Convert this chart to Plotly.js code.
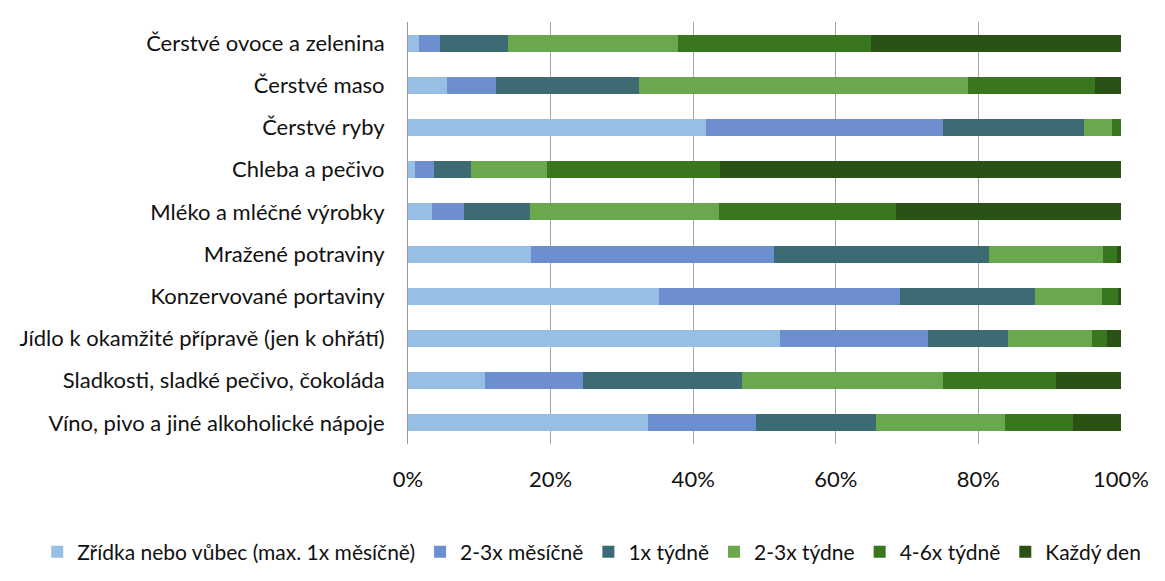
<!DOCTYPE html>
<html><head><meta charset="utf-8">
<script src="https://cdn.plot.ly/plotly-3.0.1.min.js"></script>
<style>body{margin:0;background:#fff}#c{width:1165px;height:581px}</style>
</head><body><div id="c"></div>
<script>
const categories = ["Čerstvé ovoce a zelenina","Čerstvé maso","Čerstvé ryby","Chleba a pečivo","Mléko a mléčné výrobky","Mražené potraviny","Konzervované portaviny","Jídlo k okamžité přípravě (jen k ohřátí)","Sladkosti, sladké pečivo, čokoláda","Víno, pivo a jiné alkoholické nápoje"];
const seriesNames = ["Zřídka nebo vůbec (max. 1x měsíčně)","2-3x měsíčně","1x týdně","2-3x týdne","4-6x týdně","Každý den"];
const zridka   = [1.6, 5.4, 41.8, 1.0, 3.3, 17.3, 35.2, 52.2, 10.8, 33.6];
const mesicne  = [2.9, 7.0, 33.3, 2.6, 4.6, 34.1, 33.8, 20.7, 13.7, 15.2];
const tydne1   = [9.5, 20.0, 19.7, 5.3, 9.2, 30.1, 18.9, 11.3, 22.4, 16.8];
const tydne23  = [23.9, 46.2, 3.9, 10.6, 26.5, 16.0, 9.4, 11.8, 28.2, 18.1];
const tydne46  = [27.0, 17.7, 1.3, 24.2, 24.9, 2.0, 2.3, 2.1, 15.8, 9.5];
const kazdyDen = [35.1, 3.7, 0.0, 56.3, 31.5, 0.5, 0.4, 1.9, 9.1, 6.8];
const xTickVals = [0, 20, 40, 60, 80, 100];
const xTickText = ["0%","20%","40%","60%","80%","100%"];
const colors = ["#97BFE4","#6D8FD0","#3C6B73","#69A84D","#39771E","#2A5215"];
const allSeries = [zridka, mesicne, tydne1, tydne23, tydne46, kazdyDen];
const traces = allSeries.map((vals, i) => ({
  type: 'bar', orientation: 'h', name: seriesNames[i],
  x: vals, y: categories, marker: {color: colors[i], line: {width: 0}},
  hoverinfo: 'none'
}));
const font = {family: 'Lato, sans-serif', size: 22, color: '#111'};
Plotly.newPlot('c', traces, {
  width: 1165, height: 581, barmode: 'stack', bargap: 0.6,
  margin: {l: 408, r: 44, t: 22, b: 137, autoexpand: false},
  paper_bgcolor: '#fff', plot_bgcolor: '#fff', font: font,
  showlegend: true,
  legend: {orientation: 'h', x: -0.52, xanchor: 'left', y: -0.256, yanchor: 'middle', font: {family: 'Lato, sans-serif', size: 21, color: '#111'}, traceorder: 'normal', itemwidth: 30},
  xaxis: {range: [0, 100], tickvals: xTickVals, ticktext: xTickText, showgrid: true, gridcolor: '#A6A6A6', gridwidth: 1, zeroline: false, showline: false, ticks: '', ticklabelstandoff: 20, automargin: false, fixedrange: true},
  yaxis: {categoryorder: 'array', categoryarray: categories, autorange: 'reversed', showline: true, linecolor: '#999', linewidth: 1, ticks: '', ticklabelstandoff: 18, automargin: false, showgrid: false, fixedrange: true}
}, {displayModeBar: false, staticPlot: true});
</script></body></html>
